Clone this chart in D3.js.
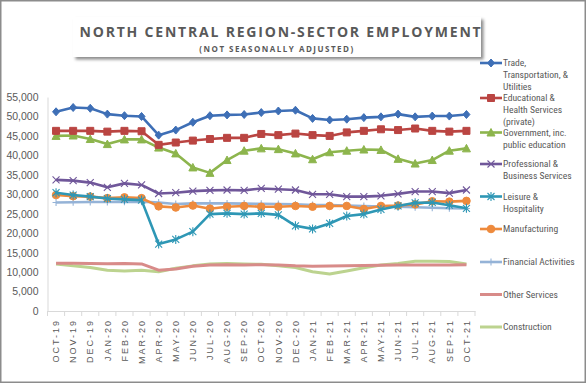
<!DOCTYPE html>
<html>
<head>
<meta charset="utf-8">
<script src="https://cdn.jsdelivr.net/npm/d3@7"></script>
<style>
  body { margin: 0; background: #fff; }
  svg { display: block; font-family: "Liberation Sans Narrow", "Roboto Condensed", "Liberation Sans", sans-serif; }
</style>
</head>
<body>
<div id="chart"></div>
<script>
// months on the x axis
var months = ["OCT-19", "NOV-19", "DEC-19", "JAN-20", "FEB-20", "MAR-20", "APR-20", "MAY-20", "JUN-20",
  "JUL-20", "AUG-20", "SEP-20", "OCT-20", "NOV-20", "DEC-20", "JAN-21", "FEB-21", "MAR-21", "APR-21",
  "MAY-21", "JUN-21", "JUL-21", "AUG-21", "SEP-21", "OCT-21"];

var yTicks = [0, 5000, 10000, 15000, 20000, 25000, 30000, 35000, 40000, 45000, 50000, 55000];

var trade = [51200, 52300, 52100, 50600, 50200, 50000, 45200, 46500, 48500, 50200, 50400, 50500, 51000,
  51400, 51600, 49500, 49100, 49300, 49700, 49900, 50600, 49900, 50100, 50100, 50500];
var education = [46300, 46300, 46300, 46100, 46300, 46200, 42700, 43300, 43800, 44200, 44500, 44500, 45500,
  45200, 45600, 45200, 45000, 45900, 46300, 46700, 46500, 46900, 46300, 46100, 46300];
var government = [45000, 45100, 44200, 42900, 44100, 44100, 42000, 40500, 36900, 35500, 38800, 41200, 41800,
  41600, 40500, 39000, 40800, 41200, 41500, 41400, 39100, 37900, 38800, 41200, 41800];
var professional = [33700, 33500, 33000, 31800, 32800, 32400, 30200, 30400, 30800, 31000, 31100, 31000, 31500,
  31300, 31100, 30000, 30000, 29400, 29400, 29600, 30100, 30700, 30700, 30300, 31100];
var leisure = [30400, 29800, 29400, 28900, 28700, 28500, 17200, 18400, 20400, 24900, 25100, 24900, 25100,
  24700, 21900, 21100, 22500, 24400, 24900, 26100, 27000, 27800, 27900, 27200, 26400];
var manufacturing = [29800, 29500, 29400, 29000, 29200, 29000, 26900, 26600, 27100, 26300, 26800, 27000, 26800,
  26800, 27000, 26800, 27000, 27000, 26200, 27000, 27100, 27400, 28200, 28100, 28300];
var financial = [27900, 27950, 28000, 28000, 28050, 28100, 27900, 27500, 27650, 27700, 27650, 27600, 27550,
  27500, 27400, 27250, 27200, 27100, 27000, 26850, 26800, 26650, 26550, 26400, 26350];
var otherServices = [12300, 12250, 12200, 12150, 12200, 12100, 10500, 10800, 11500, 11800, 11900, 11850, 11900,
  11850, 11600, 11500, 11550, 11650, 11700, 11750, 11800, 11800, 11800, 11850, 11900];
var construction = [12100, 11600, 11200, 10500, 10300, 10500, 10100, 11000, 11600, 12100, 12200, 12100, 12000,
  11600, 11200, 10100, 9500, 10300, 11100, 11800, 12200, 12800, 12800, 12700, 12100];

var seriesNames = [
  ["Trade,", "Transportation, &", "Utilities"],
  ["Educational &", "Health Services", "(private)"],
  ["Government, inc.", "public education"],
  ["Professional &", "Business Services"],
  ["Leisure &", "Hospitality"],
  ["Manufacturing"],
  ["Financial Activities"],
  ["Other Services"],
  ["Construction"]
];

var series = [
  { values: trade, color: "#3E6FB6", marker: "diamond" },
  { values: education, color: "#BA4542", marker: "square" },
  { values: government, color: "#8DB54D", marker: "triangle" },
  { values: professional, color: "#70579A", marker: "x" },
  { values: leisure, color: "#2E97B5", marker: "star" },
  { values: manufacturing, color: "#EE8A3C", marker: "circle" },
  { values: financial, color: "#95B3D7", marker: "plus" },
  { values: otherServices, color: "#D88B89", marker: "none" },
  { values: construction, color: "#BCD38F", marker: "none" }
];

var W = 586, H = 383;
var plot = { left: 47.5, right: 475, top: 97, bottom: 311 };

var svg = d3.select("#chart").append("svg")
  .attr("width", W)
  .attr("height", H);

// shadow for the title box
var defs = svg.append("defs");
var f = defs.append("filter").attr("id", "shadow")
  .attr("x", "-10%").attr("y", "-30%").attr("width", "120%").attr("height", "160%");
f.append("feDropShadow").attr("dx", 2.5).attr("dy", 2.5).attr("stdDeviation", 1.6)
  .attr("flood-color", "#000").attr("flood-opacity", 0.45);

// outer border
svg.append("rect")
  .attr("x", 0.75).attr("y", 0.75)
  .attr("width", W - 1.5).attr("height", H - 1.5)
  .attr("fill", "#fff")
  .attr("stroke", "#8c8c8c")
  .attr("stroke-width", 1.5);

// title box
svg.append("rect")
  .attr("x", 73).attr("y", 17)
  .attr("width", 408).attr("height", 40)
  .attr("fill", "#fff")
  .attr("filter", "url(#shadow)");

svg.append("text")
  .attr("x", 281).attr("y", 37)
  .attr("text-anchor", "middle")
  .style("font-family", "'Open Sans', 'Liberation Sans', sans-serif")
  .style("font-weight", "bold")
  .style("font-size", "14px")
  .style("letter-spacing", "1.8px")
  .attr("fill", "#595959")
  .text("NORTH CENTRAL REGION-SECTOR EMPLOYMENT");

svg.append("text")
  .attr("x", 277).attr("y", 52)
  .attr("text-anchor", "middle")
  .style("font-family", "'Open Sans', 'Liberation Sans', sans-serif")
  .style("font-weight", "bold")
  .style("font-size", "8px")
  .style("letter-spacing", "1.5px")
  .attr("fill", "#595959")
  .text("(NOT SEASONALLY ADJUSTED)");

// scales
var x = d3.scaleBand()
  .domain(months)
  .range([plot.left, plot.right]);

var y = d3.scaleLinear()
  .domain([0, 55000])
  .range([plot.bottom, plot.top]);

// Y axis
var yAxis = svg.append("g")
  .attr("transform", "translate(" + plot.left + ",0)")
  .call(d3.axisLeft(y).tickValues(yTicks).tickFormat(d3.format(",")).tickSize(0).tickPadding(9));
yAxis.select(".domain").attr("stroke", "#d9d9d9").attr("stroke-width", 1);
yAxis.selectAll("text")
  .attr("fill", "#595959")
  .style("font-size", "10.5px");

// X axis
var xAxis = svg.append("g")
  .attr("transform", "translate(0," + plot.bottom + ")")
  .call(d3.axisBottom(x).tickSize(0).tickSizeOuter(0));
xAxis.select(".domain").attr("stroke", "#d9d9d9").attr("stroke-width", 1);
xAxis.selectAll("text")
  .attr("transform", "rotate(-90)")
  .attr("x", -8)
  .attr("y", 0)
  .attr("dy", "0.35em")
  .style("text-anchor", "end")
  .style("font-size", "9px")
  .style("letter-spacing", "2px")
  .attr("fill", "#595959");

// tick marks between categories
xAxis.selectAll("line.between")
  .data(d3.range(months.length + 1))
  .enter()
  .append("line")
  .attr("class", "between")
  .attr("x1", function (i) { return plot.left + i * x.step(); })
  .attr("x2", function (i) { return plot.left + i * x.step(); })
  .attr("y1", 0)
  .attr("y2", 5)
  .attr("stroke", "#d9d9d9");

function markerPath(type, s) {
  var h = s / 2;
  if (type === "diamond") return "M0," + (-h - 0.5) + "L" + h + ",0L0," + (h + 0.5) + "L" + (-h) + ",0Z";
  if (type === "square") return "M" + (-h) + "," + (-h) + "h" + s + "v" + s + "h" + (-s) + "Z";
  if (type === "triangle") return "M0," + (-h - 0.5) + "L" + (h + 0.5) + "," + h + "L" + (-h - 0.5) + "," + h + "Z";
  if (type === "x") return "M" + (-h) + "," + (-h) + "L" + h + "," + h + "M" + h + "," + (-h) + "L" + (-h) + "," + h;
  if (type === "star") return "M" + (-h) + "," + (-h) + "L" + h + "," + h + "M" + h + "," + (-h) + "L" + (-h) + "," + h + "M0," + (-h - 1) + "V" + (h + 1);
  if (type === "plus") return "M0," + (-h) + "V" + h + "M" + (-h) + ",0H" + h;
  return "";
}

function drawMarker(g, type, color, cx, cy) {
  if (type === "none") return;
  if (type === "circle") {
    g.append("circle").attr("cx", cx).attr("cy", cy).attr("r", 3.8)
      .attr("fill", color).attr("stroke", color);
    return;
  }
  var stroked = (type === "x" || type === "star" || type === "plus");
  g.append("path")
    .attr("transform", "translate(" + cx + "," + cy + ")")
    .attr("d", markerPath(type, 7))
    .attr("fill", stroked ? "none" : color)
    .attr("stroke", color)
    .attr("stroke-width", stroked ? 1.1 : 1);
}

var line = d3.line()
  .x(function (d, i) { return x(months[i]) + x.bandwidth() / 2; })
  .y(function (d) { return y(d); });

// draw lines from the last series to the first so the top ones sit on top
for (var k = series.length - 1; k >= 0; k--) {
  var s = series[k];
  var g = svg.append("g");
  g.append("path")
    .datum(s.values)
    .attr("fill", "none")
    .attr("stroke", s.color)
    .attr("stroke-width", k >= 7 ? 3 : 2.6)
    .attr("stroke-linejoin", "round")
    .attr("d", line);
  s.values.forEach(function (v, i) {
    drawMarker(g, s.marker, s.color, x(months[i]) + x.bandwidth() / 2, y(v));
  });
}

// legend
var legendY = [63, 98, 132.5, 164, 196.5, 229, 262, 294.5, 327];
series.forEach(function (s, k) {
  var g = svg.append("g").attr("transform", "translate(480," + legendY[k] + ")");
  g.append("line")
    .attr("x1", 0).attr("x2", 22)
    .attr("y1", 0).attr("y2", 0)
    .attr("stroke", s.color)
    .attr("stroke-width", k >= 7 ? 3 : 2.6);
  drawMarker(g, s.marker, s.color, 11, 0);
  seriesNames[k].forEach(function (t, j) {
    g.append("text")
      .attr("x", 23)
      .attr("y", j * 12)
      .attr("dy", "0.35em")
      .attr("fill", "#595959")
      .style("font-size", "9.6px")
      .text(t);
  });
});
</script>
</body>
</html>
